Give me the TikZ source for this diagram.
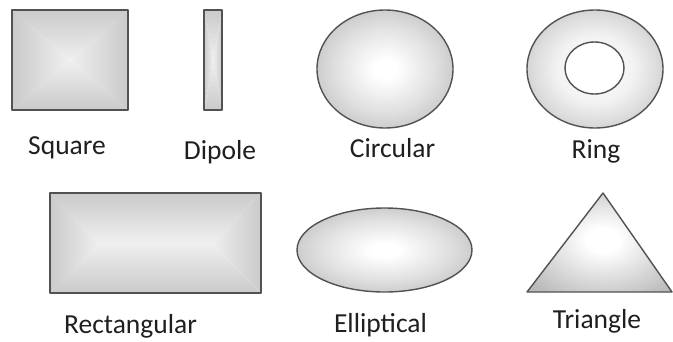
\documentclass[tikz,border=0pt]{standalone}
\usepackage{fontspec}
\setmainfont{Carlito}
\pgfdeclareradialshading{softrad}{\pgfpoint{0bp}{0bp}}{color(0bp)=(white); color(4bp)=(white); color(18bp)=(black!12); color(35bp)=(black!30); color(50bp)=(black!30)}
\pgfdeclareradialshading{ringrad}{\pgfpoint{0bp}{0bp}}{color(0bp)=(white); color(14bp)=(white!95!black); color(23bp)=(black!14); color(35bp)=(black!30); color(50bp)=(black!30)}
\pgfdeclareradialshading{trirad}{\pgfpoint{0bp}{0bp}}{color(0bp)=(white); color(5bp)=(white); color(15bp)=(black!12); color(28bp)=(black!27); color(50bp)=(black!30)}
\pgfdeclarehorizontalshading{edgefade}{100bp}{color(0bp)=(black!27); color(35bp)=(black!18); color(75bp)=(black!6); color(100bp)=(white)}
\tikzset{
  outline/.style={draw=black!68, line width=1.4pt, line join=round},
  lbl/.style={font=\fontsize{27.5}{30}\selectfont, text=black!88, anchor=base, inner sep=0pt},
  fadeL/.style={shading=edgefade, shading angle=0},
  fadeR/.style={shading=edgefade, shading angle=180},
  fadeT/.style={shading=edgefade, shading angle=-90},
  fadeB/.style={shading=edgefade, shading angle=90},
}
\begin{document}
\begin{tikzpicture}[x=1pt,y=-1pt]
\useasboundingbox (0,0) rectangle (673,341);
% Square
\coordinate (sqA) at (12,10); \coordinate (sqB) at (128,10);
\coordinate (sqC) at (128,110); \coordinate (sqD) at (12,110);
\coordinate (sqM) at (70,60);
\shade[fadeT] (sqA) -- (sqB) -- (sqM) -- cycle;
\shade[fadeB] (sqD) -- (sqC) -- (sqM) -- cycle;
\shade[fadeL] (sqA) -- (sqD) -- (sqM) -- cycle;
\shade[fadeR] (sqB) -- (sqC) -- (sqM) -- cycle;
\draw[outline] (sqA) rectangle (sqC);
% Dipole
\coordinate (dpA) at (204,10); \coordinate (dpB) at (222,10);
\coordinate (dpC) at (222,110); \coordinate (dpD) at (204,110);
\coordinate (dpM) at (213,60);
\shade[fadeL] (dpA) -- (dpD) -- (dpM) -- cycle;
\shade[fadeR] (dpB) -- (dpC) -- (dpM) -- cycle;
\shade[fadeT] (dpA) -- (dpB) -- (dpM) -- cycle;
\shade[fadeB] (dpD) -- (dpC) -- (dpM) -- cycle;
\draw[outline] (dpA) rectangle (dpC);
% Circular
\shade[shading=softrad] (385,69) ellipse [x radius=68, y radius=59];
\draw[outline] (385,69) ellipse [x radius=68, y radius=59];
% Ring
\shade[shading=ringrad] (595,69) ellipse [x radius=68, y radius=59];
\fill[white] (594.5,68) ellipse [x radius=29.5, y radius=26];
\draw[outline] (595,69) ellipse [x radius=68, y radius=59];
\draw[outline] (594.5,68) ellipse [x radius=29.5, y radius=26];
% Rectangular
\coordinate (rcA) at (50,193); \coordinate (rcB) at (261,193);
\coordinate (rcC) at (261,293); \coordinate (rcD) at (50,293);
\coordinate (rcM1) at (100,243); \coordinate (rcM2) at (211,243);
\shade[fadeT] (rcA) -- (rcB) -- (rcM2) -- (rcM1) -- cycle;
\shade[fadeB] (rcD) -- (rcC) -- (rcM2) -- (rcM1) -- cycle;
\shade[fadeL] (rcA) -- (rcD) -- (rcM1) -- cycle;
\shade[fadeR] (rcB) -- (rcC) -- (rcM2) -- cycle;
\draw[outline] (rcA) rectangle (rcC);
% Elliptical
\shade[shading=softrad] (384.5,250) ellipse [x radius=87.5, y radius=42];
\draw[outline] (384.5,250) ellipse [x radius=87.5, y radius=42];
% Triangle
\coordinate (trA) at (603,193); \coordinate (trB) at (527,292); \coordinate (trC) at (672,292);
\begin{scope}
\clip (trA) -- (trB) -- (trC) -- cycle;
\shade[shading=trirad] (520,180) rectangle (686,300);
\end{scope}
\draw[outline] (trA) -- (trB) -- (trC) -- cycle;
% Labels
\node[lbl] (lsq) at (67,154) {Square};
\node[lbl] (ldp) at (220,159) {Dipole};
\node[lbl] (lci) at (392.5,157) {Circular};
\node[lbl] (lri) at (596,158) {Ring};
\node[lbl] (lre) at (130.5,333) {Rectangular};
\node[lbl] (lel) at (380.5,332) {Elliptical};
\node[lbl] (ltr) at (597,328) {Triangle};
\end{tikzpicture}
\end{document}
